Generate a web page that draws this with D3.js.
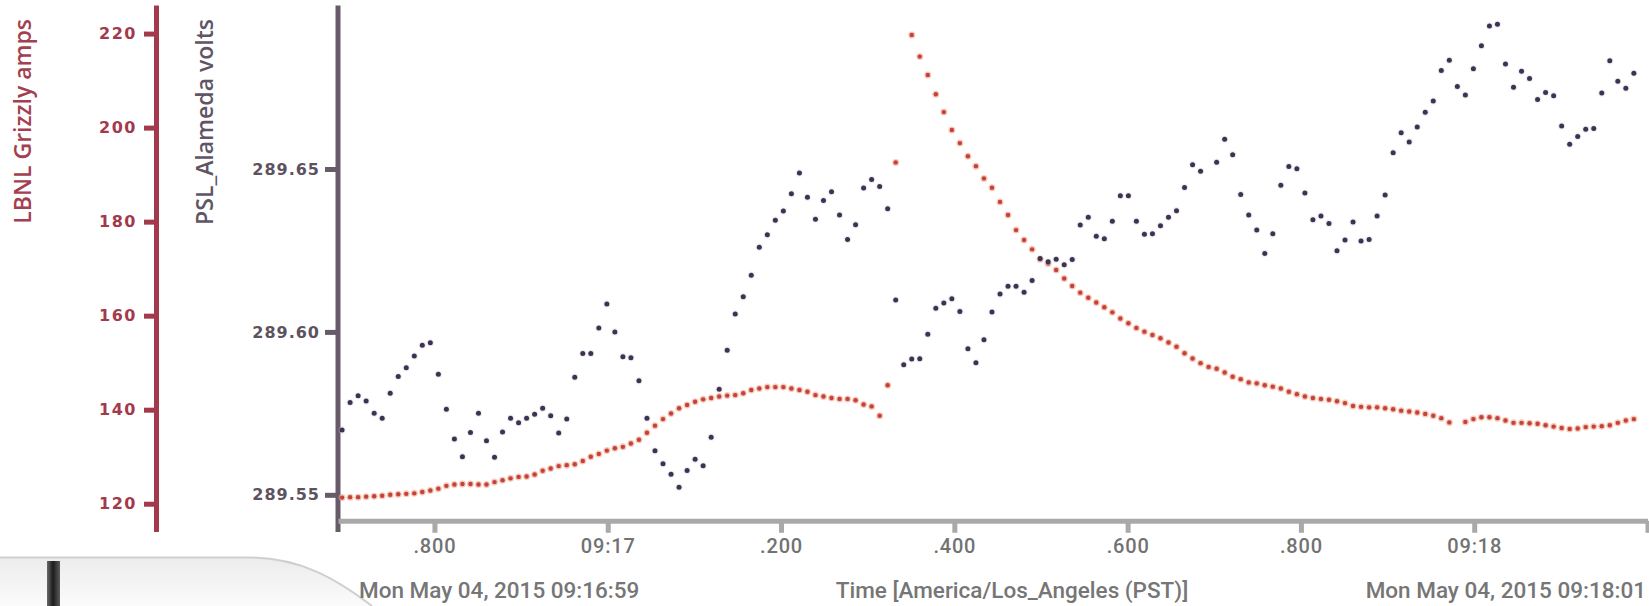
<!DOCTYPE html>
<html>
<head>
<meta charset="utf-8" />
<style>
    body { margin: 0; background: #fff; }
    svg { display: block; }

    .amp-axis text {
        font-family: "DejaVu Sans", sans-serif;
        font-weight: bold;
        font-size: 16px;
        letter-spacing: 1.5px;
        fill: #a23a4c;
    }
    .volt-axis text {
        font-family: "DejaVu Sans", sans-serif;
        font-weight: bold;
        font-size: 16px;
        letter-spacing: 1px;
        fill: #5d5260;
    }
    .time-axis text {
        font-family: Roboto, sans-serif;
        font-weight: 500;
        font-size: 20px;
        letter-spacing: 0.8px;
        fill: #727272;
    }
    .title {
        font-family: "Open Sans", sans-serif;
        font-weight: 600;
        font-size: 23px;
    }
    .footer {
        font-family: Roboto, sans-serif;
        font-weight: 500;
        font-size: 22.5px;
        fill: #767676;
    }
</style>
</head>
<body>
<svg width="1649" height="606"></svg>
<script src="https://d3js.org/d3.v7.min.js"></script>
<script>

    // samples are on a shared clock, ms relative to 09:17:00.000
    var firstSampleMs = -306.6,
        sampleMs = 9.26;

    // LBNL Grizzly amps (null = no sample)
    var amps = [
        121.3, 121.4, 121.4, 121.5, 121.6, 121.7, 121.9, 122.0, 122.1, 122.2,
        122.5, 122.8, 123.2, 123.8, 124.1, 124.2, 124.2, 124.1, 124.1, 124.6,
        125.0, 125.4, 125.7, 125.8, 126.2, 127.0, 127.5, 128.0, 128.2, 128.4,
        129.1, 130.0, 130.6, 131.3, 131.8, 132.1, 132.8, 133.6, 135.1, 136.6,
        138.0, 139.2, 140.3, 141.0, 141.7, 142.2, 142.5, 142.8, 143.0, 143.1,
        143.5, 144.2, 144.5, 144.8, 144.8, 144.8, 144.5, 144.2, 143.8, 143.1,
        142.8, 142.5, 142.3, 142.3, 142.0, 141.1, 140.7, 138.7, 145.2, 192.6,
        null, 219.7, 215.1, 211.2, 207.1, 203.3, 199.5, 196.7, 193.9, 191.8,
        189.2, 187.2, 184.2, 181.4, 178.2, 176.1, 174.1, 172.0, 171.1, 169.7,
        167.9, 166.3, 164.9, 163.8, 162.8, 161.8, 160.7, 159.4, 158.4, 157.4,
        156.6, 155.9, 155.2, 154.3, 153.4, 152.0, 150.9, 149.9, 149.1, 148.7,
        147.9, 147.0, 146.5, 145.8, 145.6, 145.2, 144.9, 144.5, 143.8, 143.3,
        142.8, 142.5, 142.3, 142.1, 141.8, 141.4, 140.8, 140.6, 140.5, 140.5,
        140.3, 140.1, 139.8, 139.6, 139.4, 139.1, 138.7, 138.2, 137.3, null,
        137.4, 138.0, 138.4, 138.4, 138.2, 137.7, 137.2, 137.2, 137.1, 137.0,
        136.7, 136.4, 136.1, 135.9, 136.0, 136.3, 136.4, 136.5, 136.7, 137.2,
        137.7, 138.0
    ];

    // PSL_Alameda volts
    var volts = [
        289.5699, 289.5783, 289.5804, 289.5788, 289.5750, 289.5735, 289.5812, 289.5863, 289.5890, 289.5926,
        289.5959, 289.5967, 289.5870, 289.5763, 289.5671, 289.5617, 289.5691, 289.5750, 289.5666, 289.5615,
        289.5693, 289.5735, 289.5721, 289.5735, 289.5747, 289.5766, 289.5743, 289.5690, 289.5733, 289.5861,
        289.5934, 289.5934, 289.6012, 289.6086, 289.6000, 289.5924, 289.5921, 289.5850, 289.5735, 289.5635,
        289.5595, 289.5563, 289.5523, 289.5575, 289.5609, 289.5589, 289.5677, 289.5824, 289.5944, 289.6055,
        289.6108, 289.6174, 289.6260, 289.6298, 289.6343, 289.6371, 289.6424, 289.6488, 289.6413, 289.6346,
        289.6403, 289.6430, 289.6359, 289.6284, 289.6329, 289.6442, 289.6468, 289.6446, 289.6378, 289.6098,
        289.5899, 289.5917, 289.5918, 289.5993, 289.6073, 289.6089, 289.6102, 289.6063, 289.5948, 289.5905,
        289.5976, 289.6061, 289.6116, 289.6140, 289.6140, 289.6122, 289.6158, 289.6225, 289.6215, 289.6223,
        289.6206, 289.6222, 289.6328, 289.6352, 289.6294, 289.6286, 289.6340, 289.6418, 289.6418, 289.6340,
        289.6300, 289.6301, 289.6326, 289.6352, 289.6372, 289.6443, 289.6513, 289.6493, null, 289.6521,
        289.6591, 289.6544, 289.6422, 289.6359, 289.6313, 289.6241, 289.6301, 289.6450, 289.6508, 289.6501,
        289.6426, 289.6344, 289.6356, 289.6333, 289.6249, 289.6282, 289.6337, 289.6279, 289.6284, 289.6356,
        289.6420, 289.6550, 289.6611, 289.6583, 289.6629, 289.6674, 289.6709, 289.6802, 289.6834, 289.6753,
        289.6727, 289.6808, 289.6878, 289.6939, 289.6944, 289.6822, 289.6751, 289.6800, 289.6778, 289.6713,
        289.6735, 289.6725, 289.6632, 289.6576, 289.6600, 289.6622, 289.6624, 289.6733, 289.6832, 289.6769,
        289.6748, 289.6794
    ];

    var ampTicks = [120, 140, 160, 180, 200, 220];
    var voltTicks = [289.55, 289.60, 289.65];
    var timeTicks = [-200, 0, 200, 400, 600, 800, 1000, 1200];
    var timeTickLabels = [".800", "09:17", ".200", ".400", ".600", ".800", "09:18", ""];

    var svg = d3.select("svg");

    var x = d3.scaleLinear().domain([-311.3, 1200]).range([338, 1647.5]);
    var yAmp = d3.scaleLinear().domain([114.09, 226.08]).range([531.5, 5]);
    var yVolt = d3.scaleLinear().domain([289.53874, 289.70034]).range([531.5, 5]);

    // bottom-left decoration (edge of an overlapping panel)
    var defs = svg.append("defs");
    var barGrad = defs.append("linearGradient").attr("id", "bar");
    barGrad.append("stop").attr("offset", "0%").attr("stop-color", "#6a6a6a");
    barGrad.append("stop").attr("offset", "45%").attr("stop-color", "#1c1c1c");
    barGrad.append("stop").attr("offset", "100%").attr("stop-color", "#5a5a5a");
    var shade = defs.append("linearGradient").attr("id", "shade")
            .attr("x1", 0).attr("y1", 0).attr("x2", 0).attr("y2", 1);
    shade.append("stop").attr("offset", "0%").attr("stop-color", "#ececec");
    shade.append("stop").attr("offset", "100%").attr("stop-color", "#fbfbfb");

    svg.append("path")
            .attr("d", "M0,557.5 L250,557.5 C300,558 335,578 372,606 L0,606 Z")
            .attr("fill", "url(#shade)");
    svg.append("path")
            .attr("d", "M0,557.5 L250,557.5 C300,558 335,578 372,606")
            .attr("fill", "none")
            .attr("stroke", "#cfcfcf")
            .attr("stroke-width", 2);
    svg.append("rect")
            .attr("x", 47).attr("y", 561).attr("width", 13).attr("height", 45)
            .attr("fill", "url(#bar)");

    // axes
    var ampAxis = svg.append("g")
            .attr("class", "amp-axis")
            .attr("transform", "translate(156,0)")
            .call(d3.axisLeft(yAmp).tickValues(ampTicks).tickSize(12).tickSizeOuter(0).tickPadding(7));
    ampAxis.selectAll("path, line").attr("stroke", "#a23a4c").attr("stroke-width", 5);

    var voltAxis = svg.append("g")
            .attr("class", "volt-axis")
            .attr("transform", "translate(337.5,0)")
            .call(d3.axisLeft(yVolt).tickValues(voltTicks).tickFormat(d3.format(".2f"))
                    .tickSize(12.5).tickSizeOuter(0).tickPadding(5));
    voltAxis.selectAll("path, line").attr("stroke", "#675b69").attr("stroke-width", 5);

    var timeAxis = svg.append("g")
            .attr("class", "time-axis")
            .attr("transform", "translate(0,520.8)")
            .call(d3.axisBottom(x).tickValues(timeTicks)
                    .tickFormat(function (d, i) { return timeTickLabels[i]; })
                    .tickSize(12).tickSizeOuter(0).tickPadding(6));
    timeAxis.selectAll("path, line").attr("stroke", "#a9a9a9").attr("stroke-width", 5);

    // axis titles
    svg.append("text")
            .attr("class", "title")
            .attr("transform", "translate(31,19) rotate(-90)")
            .attr("text-anchor", "end")
            .attr("fill", "#a3404f")
            .text("LBNL Grizzly amps");

    svg.append("text")
            .attr("class", "title")
            .attr("transform", "translate(213,19) rotate(-90)")
            .attr("text-anchor", "end")
            .attr("fill", "#5f5564")
            .text("PSL_Alameda volts");

    // footer labels
    svg.append("text").attr("class", "footer")
            .attr("x", 359).attr("y", 598)
            .text("Mon May 04, 2015 09:16:59");
    svg.append("text").attr("class", "footer")
            .attr("x", 1012).attr("y", 598).attr("text-anchor", "middle")
            .text("Time [America/Los_Angeles (PST)]");
    svg.append("text").attr("class", "footer")
            .attr("x", 1646).attr("y", 598).attr("text-anchor", "end")
            .text("Mon May 04, 2015 09:18:01");

    // points
    function sampleTime(i) {
        return firstSampleMs + i * sampleMs;
    }

    var ampPts = amps.map(function (v, i) { return {t: sampleTime(i), v: v}; })
            .filter(function (d) { return d.v !== null; });
    var voltPts = volts.map(function (v, i) { return {t: sampleTime(i), v: v}; })
            .filter(function (d) { return d.v !== null; });

    var ampG = svg.append("g").attr("class", "amps");
    ampG.selectAll("circle.halo")
            .data(ampPts)
            .enter().append("circle")
            .attr("class", "halo")
            .attr("cx", function (d) { return x(d.t); })
            .attr("cy", function (d) { return yAmp(d.v); })
            .attr("r", 3.5)
            .attr("fill", "#f4a58a")
            .attr("opacity", 0.6);
    ampG.selectAll("circle.dot")
            .data(ampPts)
            .enter().append("circle")
            .attr("class", "dot")
            .attr("cx", function (d) { return x(d.t); })
            .attr("cy", function (d) { return yAmp(d.v); })
            .attr("r", 2.2)
            .attr("fill", "#c2423c");

    var voltG = svg.append("g").attr("class", "volts");
    voltG.selectAll("circle.halo")
            .data(voltPts)
            .enter().append("circle")
            .attr("class", "halo")
            .attr("cx", function (d) { return x(d.t); })
            .attr("cy", function (d) { return yVolt(d.v); })
            .attr("r", 3.6)
            .attr("fill", "#cfc8d6")
            .attr("opacity", 0.35);
    voltG.selectAll("circle.dot")
            .data(voltPts)
            .enter().append("circle")
            .attr("class", "dot")
            .attr("cx", function (d) { return x(d.t); })
            .attr("cy", function (d) { return yVolt(d.v); })
            .attr("r", 2.5)
            .attr("fill", "#3d3251");

</script>
</body>
</html>
